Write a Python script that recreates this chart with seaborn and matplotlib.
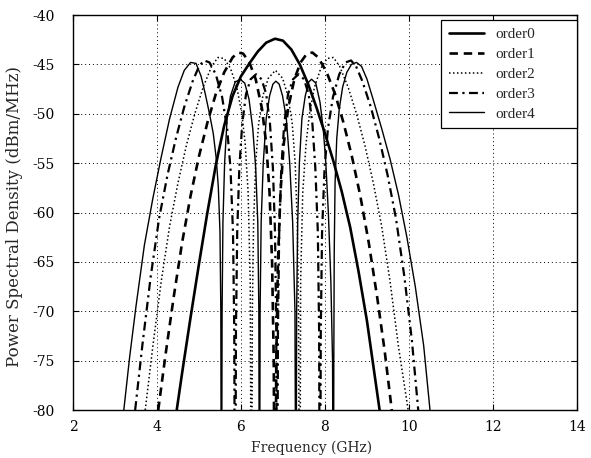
import matplotlib
matplotlib.use("Agg")
import matplotlib.pyplot as plt
import seaborn as sns
import pandas as pd

# Power spectral density of the pulse orders (frequency in GHz, PSD in dBm/MHz).
# Nulls are listed at -100 dB so the traces drop through the bottom of the plot.
order0_freq = [4.47, 4.6, 4.8, 5.0, 5.2, 5.4, 5.6, 5.8, 6.0, 6.2, 6.4, 6.6, 6.81,
               7.0, 7.2, 7.4, 7.6, 7.8, 8.0, 8.2, 8.4, 8.6, 8.8, 9.0, 9.3]
order0_psd = [-80, -76.2, -70.6, -65.2, -60.0, -55.2, -51.2, -48.2, -46.2, -44.9, -43.7, -42.8, -42.4,
              -42.6, -43.5, -45.0, -47.0, -49.4, -52.0, -54.8, -57.9, -61.5, -66.0, -71.0, -80]

order1_freq = [4.03, 4.2, 4.4, 4.6, 4.8, 5.0, 5.2, 5.4, 5.6, 5.8, 5.93, 6.05, 6.2, 6.35, 6.5,
               6.6, 6.68, 6.74, 6.78, 6.81,
               6.84, 6.88, 6.94, 7.02, 7.12, 7.27, 7.42, 7.57, 7.7, 7.84, 8.04, 8.24, 8.44,
               8.64, 8.84, 9.04, 9.24, 9.42, 9.59]
order1_psd = [-80, -74.5, -68.5, -63.0, -58.3, -54.3, -50.9, -48.0, -45.8, -44.3, -43.8, -43.9, -44.8, -46.5, -49.5,
              -53, -58, -65, -75, -100,
              -75, -65, -58, -53, -49.5, -46.5, -44.8, -43.9, -43.8, -44.3, -45.8, -48.0, -50.9,
              -54.3, -58.3, -63.0, -68.5, -74.0, -80]

order2_freq = [3.72, 3.9, 4.1, 4.3, 4.5, 4.7, 4.9, 5.1, 5.3, 5.45, 5.6, 5.75, 5.9, 6.02, 6.1,
               6.17, 6.22, 6.25,
               6.27, 6.3, 6.35, 6.42, 6.52, 6.65, 6.82, 6.99, 7.12, 7.22, 7.29, 7.34, 7.37, 7.40,
               7.42, 7.47, 7.55, 7.63, 7.75, 7.9, 8.05, 8.2, 8.35, 8.55, 8.75, 8.95, 9.15,
               9.35, 9.55, 9.75, 9.98]
order2_psd = [-80, -73.6, -67.0, -61.4, -57.0, -53.2, -50.0, -47.3, -45.2, -44.3, -44.4, -45.4, -47.3, -50.0, -53,
              -58, -67, -100,
              -70, -61, -55, -51, -48.2, -46.4, -45.6, -46.4, -48.2, -51, -55, -61, -70, -100,
              -67, -58, -53, -50.0, -47.3, -45.4, -44.4, -44.3, -45.2, -47.3, -50.0, -53.2, -57.0,
              -61.4, -67.0, -73.6, -80]

order3_freq = [3.48, 3.65, 3.85, 4.05, 4.25, 4.45, 4.65, 4.85, 5.0, 5.12, 5.25, 5.4, 5.55, 5.67,
               5.75, 5.81, 5.84, 5.86,
               5.88, 5.91, 5.96, 6.03, 6.12, 6.23, 6.36, 6.49, 6.6, 6.69, 6.76, 6.81, 6.84, 6.86,
               6.88, 6.91, 6.96, 7.03, 7.12, 7.24, 7.37, 7.5, 7.61, 7.7, 7.77, 7.83, 7.86, 7.88,
               7.9, 7.93, 7.99, 8.07, 8.19, 8.34, 8.49, 8.62, 8.74, 8.89, 9.09, 9.29, 9.49,
               9.69, 9.89, 10.07, 10.22]
order3_psd = [-80, -73.5, -66.5, -60.6, -56.2, -52.5, -49.3, -46.7, -45.2, -44.6, -44.8, -46.0, -48.3, -51.5,
              -55.5, -62, -72, -100,
              -72, -62, -55.5, -51, -48, -46.5, -46.0, -46.5, -48, -51, -55.5, -62, -72, -100,
              -72, -62, -55.5, -51, -48, -46.5, -46.0, -46.5, -48, -51, -55.5, -62, -72, -100,
              -72, -62, -55.5, -51.5, -48.3, -46.0, -44.8, -44.6, -45.2, -46.7, -49.3, -52.5, -56.2,
              -60.6, -66.5, -73.0, -80]

order4_freq = [3.21, 3.35, 3.5, 3.7, 3.9, 4.1, 4.3, 4.5, 4.65, 4.8, 4.93, 5.05, 5.15, 5.25, 5.34,
               5.41, 5.46, 5.5, 5.52, 5.535,
               5.55, 5.57, 5.61, 5.67, 5.75, 5.86, 5.98, 6.09, 6.19, 6.28, 6.35, 6.4, 6.425, 6.44,
               6.455, 6.48, 6.53, 6.6, 6.68, 6.76, 6.83, 6.91, 6.99, 7.08, 7.16, 7.23, 7.285, 7.31,
               7.325, 7.35, 7.39, 7.45, 7.53, 7.61, 7.68, 7.78, 7.88, 7.96, 8.02, 8.08, 8.14, 8.18, 8.2,
               8.21, 8.22, 8.24, 8.28, 8.34, 8.42, 8.52, 8.63, 8.75, 8.87, 9.0, 9.15, 9.35, 9.55,
               9.75, 9.95, 10.15, 10.35, 10.5]
order4_psd = [-80, -74.6, -69.5, -63.3, -58.6, -54.4, -50.5, -47.3, -45.6, -44.8, -44.9, -46.2, -48.0, -50.0, -52.0,
              -54.5, -57.4, -62, -70, -100,
              -70, -61, -55, -50.5, -48.2, -46.8, -46.5, -46.9, -48.5, -51.5, -55.5, -61, -70, -100,
              -70, -61, -55, -50.5, -48.2, -47.0, -46.7, -47.0, -48.2, -50.5, -55, -61, -70, -100,
              -70, -61, -55, -50.5, -48.2, -46.8, -46.5, -46.9, -48.8, -51.6, -55, -60, -67, -75, -100,
              -75, -64, -57, -52.5, -49.5, -47.3, -45.8, -45.0, -44.8, -45.2, -46.5, -48.6, -51.5, -54.6,
              -58.2, -62.5, -67.5, -73.5, -80]

series_names = ["order0", "order1", "order2", "order3", "order4"]
x_ticks = [2, 4, 6, 8, 10, 12, 14]
y_ticks = [-80, -75, -70, -65, -60, -55, -50, -45, -40]

frames = []
for name, f, p in [("order0", order0_freq, order0_psd),
                   ("order1", order1_freq, order1_psd),
                   ("order2", order2_freq, order2_psd),
                   ("order3", order3_freq, order3_psd),
                   ("order4", order4_freq, order4_psd)]:
    frames.append(pd.DataFrame({"freq": f, "psd": p, "order": name}))
data = pd.concat(frames, ignore_index=True)

sns.set_style("ticks")
plt.rcParams["font.family"] = ["DejaVu Serif"]
plt.rcParams["axes.unicode_minus"] = False

fig = plt.figure(figsize=(5.91, 4.58), dpi=100)
ax = fig.add_axes([0.1235, 0.1048, 0.8528, 0.8624])

styles = {
    "order0": dict(lw=1.9, ls="-"),
    "order1": dict(lw=1.9, ls=(0, (3.2, 2.2))),
    "order2": dict(lw=1.1, ls=(0, (1, 1.6))),
    "order3": dict(lw=1.6, ls=(0, (4, 2, 1, 2))),
    "order4": dict(lw=1.0, ls="-"),
}

for name in series_names:
    sub = data[data["order"] == name]
    sns.lineplot(data=sub, x="freq", y="psd", ax=ax, color="black",
                 estimator=None, sort=False, label=name,
                 linewidth=styles[name]["lw"], linestyle=styles[name]["ls"])

ax.set_xlim(2, 14)
ax.set_ylim(-80, -40)
ax.set_xticks(x_ticks)
ax.set_yticks(y_ticks)
ax.grid(True, color="black", linestyle=(0, (1, 3)), linewidth=0.7)
ax.tick_params(direction="in", length=4, width=0.8, top=True, right=True,
               labelsize=10, colors="black")
ax.tick_params(axis="x", pad=7)
ax.tick_params(axis="y", pad=13)
for s in ax.spines.values():
    s.set_visible(True)
    s.set_linewidth(1.0)
    s.set_color("black")

ax.set_xlabel("Frequency (GHz)", fontsize=10)
ax.xaxis.set_label_coords(0.474, -0.078)
ax.set_ylabel("Power Spectral Density (dBm/MHz)", fontsize=12)
ax.yaxis.set_label_coords(-0.1, 0.49)

# legend box spans the upper-right corner of the axes
leg = ax.legend(loc="upper left", bbox_to_anchor=(0.730, 0.987, 0.270, 0.0),
                mode="expand", borderaxespad=0.0,
                prop={"family": "Liberation Serif", "size": 11},
                frameon=True, fancybox=False, edgecolor="black", framealpha=1.0,
                handlelength=2.3, handletextpad=0.75, labelspacing=0.4,
                borderpad=0.5)
leg.get_frame().set_linewidth(0.9)

fig.savefig("out.png", dpi=100)
